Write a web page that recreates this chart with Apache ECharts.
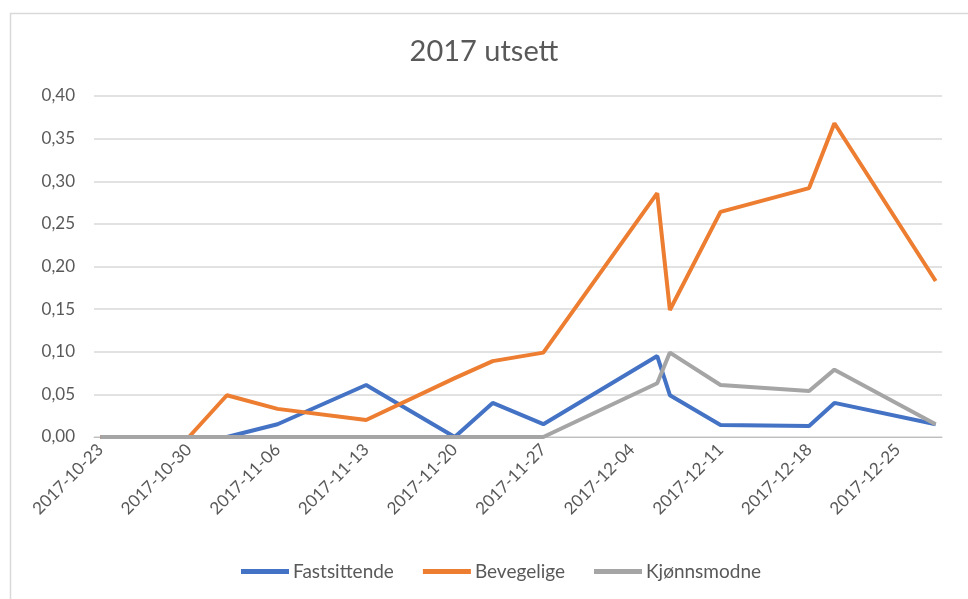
<!DOCTYPE html>
<html>
<head>
<meta charset="utf-8">
<script src="https://cdn.jsdelivr.net/npm/echarts@6/dist/echarts.min.js"></script>
<style>html,body{margin:0;padding:0;background:#fff}#c{width:968px;height:599px}</style>
</head>
<body>
<div id="c"></div>
<script>
const dates = ['2017-10-23','2017-10-30','2017-11-02','2017-11-06','2017-11-13','2017-11-20','2017-11-23','2017-11-27','2017-12-06','2017-12-07','2017-12-11','2017-12-18','2017-12-20','2017-12-28'];
const fastsittende = [0,0,0,0.015,0.061,0,0.040,0.015,0.095,0.049,0.014,0.013,0.040,0.015];
const bevegelige   = [0,0,0.049,0.033,0.020,0.069,0.089,0.099,0.286,0.149,0.264,0.292,0.368,0.183];
const kjonnsmodne  = [0,0,0,0,0,0,0,0,0.063,0.099,0.061,0.054,0.079,0.015];
const seriesNames = ['Fastsittende','Bevegelige','Kjønnsmodne'];
const yTicks = {min:0, max:0.4, interval:0.05};

// Build a daily date axis (Excel date axis) from first to last date
function parse(s){const p=s.split('-').map(Number);return Date.UTC(p[0],p[1]-1,p[2]);}
function fmt(t){const d=new Date(t);const m=String(d.getUTCMonth()+1).padStart(2,'0');const dd=String(d.getUTCDate()).padStart(2,'0');return d.getUTCFullYear()+'-'+m+'-'+dd;}
const DAY=86400000;
const start=parse(dates[0]), end=parse(dates[dates.length-1]);
const cats=[];
for(let t=start;t<=end;t+=DAY) cats.push(fmt(t));
function toSeries(vals){
  const arr=new Array(cats.length).fill(null);
  dates.forEach((d,i)=>{arr[cats.indexOf(d)]=vals[i];});
  return arr;
}
const font='Lato, "Open Sans", sans-serif';
const colors=['#4472C4','#ED7D31','#A5A5A5'];
const chart=echarts.init(document.getElementById('c'));
chart.setOption({
  animation:false,
  color:colors,
  textStyle:{fontFamily:font},
  graphic:[{type:'rect',left:8,top:11,shape:{width:1200,height:1200},style:{fill:'none',stroke:'#d9d9d9',lineWidth:1.5},silent:true,z:-10}],
  title:{text:'2017 utsett',left:'center',top:32,textStyle:{fontFamily:font,fontSize:29,fontWeight:'normal',color:'#595959'}},
  legend:{bottom:13,left:236,icon:'rect',itemWidth:48,itemHeight:5,itemGap:29,
    textStyle:{fontFamily:font,fontSize:19,color:'#595959',padding:[0,0,0,-1]},data:seriesNames},
  grid:{left:94,right:26,top:96,bottom:162,containLabel:false},
  xAxis:{type:'category',data:cats,boundaryGap:true,
    axisLine:{lineStyle:{color:'#bfbfbf',width:1}},
    axisTick:{interval:(i)=>i%7===0,length:5,lineStyle:{color:'#d9d9d9'}},
    axisLabel:{interval:(i)=>i%7===0,rotate:45,fontSize:17,color:'#595959',fontFamily:font,margin:10},
    splitLine:{show:false}},
  yAxis:{type:'value',min:yTicks.min,max:yTicks.max,interval:yTicks.interval,
    axisLine:{show:false},axisTick:{show:false},
    axisLabel:{fontSize:17,color:'#595959',fontFamily:font,margin:19,formatter:(v)=>v.toFixed(2).replace('.',',')},
    splitLine:{lineStyle:{color:'#d9d9d9',width:1.5}}},
  series:[
    {name:seriesNames[0],type:'line',data:toSeries(fastsittende),connectNulls:true,symbol:'none',lineStyle:{width:4,color:colors[0]},z:2},
    {name:seriesNames[1],type:'line',data:toSeries(bevegelige),connectNulls:true,symbol:'none',lineStyle:{width:4,color:colors[1]},z:3},
    {name:seriesNames[2],type:'line',data:toSeries(kjonnsmodne),connectNulls:true,symbol:'none',lineStyle:{width:4,color:colors[2]},z:4}
  ]
});
</script>
</body>
</html>
